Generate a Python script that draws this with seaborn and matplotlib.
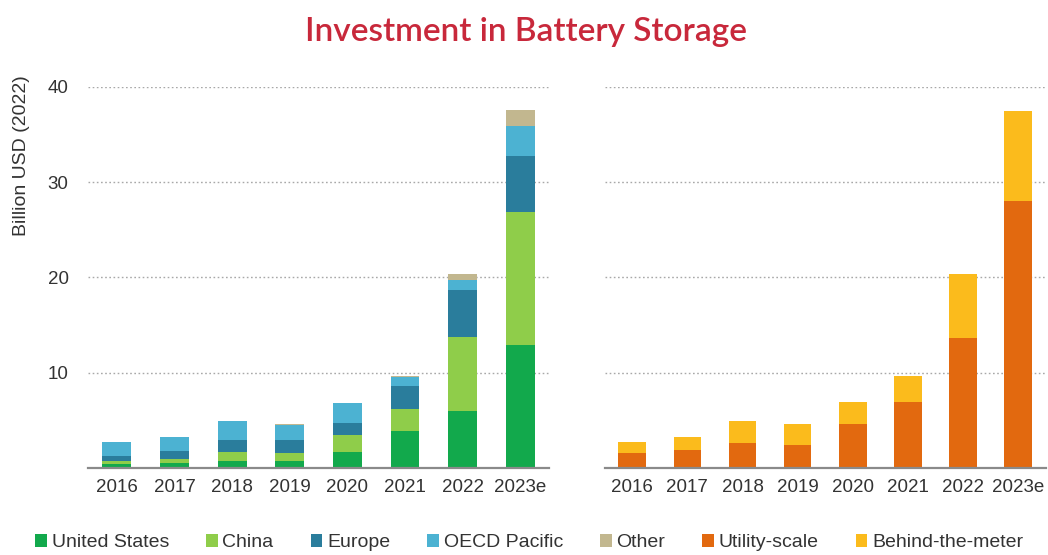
import matplotlib
matplotlib.use("Agg")
import matplotlib.pyplot as plt
from matplotlib.patches import Patch
import numpy as np
import pandas as pd
import seaborn as sns

# Investment in battery storage, billion USD (2022)
years = ["2016", "2017", "2018", "2019", "2020", "2021", "2022", "2023e"]

# By region
united_states = [0.4, 0.5, 0.7, 0.7, 1.7, 3.9, 6.0, 12.9]
china = [0.3, 0.45, 0.95, 0.9, 1.75, 2.3, 7.7, 14.0]
europe = [0.6, 0.8, 1.3, 1.3, 1.25, 2.4, 5.0, 5.9]
oecd_pacific = [1.4, 1.5, 1.95, 1.6, 2.1, 1.0, 1.0, 3.1]
other = [0.0, 0.0, 0.0, 0.1, 0.0, 0.1, 0.7, 1.7]

# By segment
utility_scale = [1.6, 1.9, 2.6, 2.45, 4.6, 6.9, 13.6, 28.0]
behind_the_meter = [1.1, 1.4, 2.35, 2.2, 2.3, 2.8, 6.8, 9.5]

region_series = {
    "United States": united_states,
    "China": china,
    "Europe": europe,
    "OECD Pacific": oecd_pacific,
    "Other": other,
}
segment_series = {
    "Utility-scale": utility_scale,
    "Behind-the-meter": behind_the_meter,
}

colors = {
    "United States": "#12a94c",
    "China": "#8fcd4a",
    "Europe": "#2a7d9c",
    "OECD Pacific": "#4cb2d2",
    "Other": "#c2b78f",
    "Utility-scale": "#e2690f",
    "Behind-the-meter": "#fbbb1c",
}

text_color = "#333333"

sns.set_theme(style="white")
plt.rcParams["font.family"] = ["Liberation Sans", "DejaVu Sans"]

fig = plt.figure(figsize=(10.48, 5.55), dpi=100)
ax_l = fig.add_axes([0.084, 0.1568, 0.44, 0.6865])
ax_r = fig.add_axes([0.577, 0.1568, 0.4208, 0.6865])


def stacked(ax, series):
    names = list(series)
    df = pd.DataFrame(series, index=years)
    cum = df.cumsum(axis=1)
    # draw tallest cumulative layer first so lower layers sit on top of it
    for name in reversed(names):
        sns.barplot(x=years, y=cum[name].values, color=colors[name],
                    width=0.5, saturation=1, linewidth=0, ax=ax, order=years)


stacked(ax_l, region_series)
stacked(ax_r, segment_series)

for ax in (ax_l, ax_r):
    ax.set_ylim(0, 40)
    ax.set_xlim(-0.5, 7.5)
    ax.set_yticks([0, 10, 20, 30, 40])
    ax.yaxis.grid(True, linestyle=(0, (1.2, 1.8)), color="#a8a8a8", linewidth=1.0)
    ax.set_axisbelow(True)
    for s in ("top", "right", "left"):
        ax.spines[s].set_visible(False)
    ax.spines["bottom"].set_color("#8a8a8a")
    ax.spines["bottom"].set_linewidth(1.6)
    ax.tick_params(axis="x", length=0, pad=8, labelsize=13.5, labelcolor=text_color)
    ax.tick_params(axis="y", length=0, pad=14, labelsize=13.5, labelcolor=text_color)
    ax.set_xlabel("")

ax_l.set_yticklabels(["", "10", "20", "30", "40"])
ax_r.set_yticklabels([])
ax_l.set_ylabel("Billion USD (2022)", fontsize=14, color=text_color)
ax_l.yaxis.set_label_coords(-0.125, 0.82)

fig.suptitle("Investment in Battery Storage", x=0.502, y=0.943, va="center",
             fontsize=24, fontweight="semibold", color="#c8283b",
             family=["Lato", "DejaVu Sans"])

handles = [Patch(facecolor=colors[n], edgecolor="none", label=n)
           for n in list(region_series) + list(segment_series)]
fig.legend(handles=handles, loc="center", bbox_to_anchor=(0.505, 0.022), ncol=7,
           frameon=False, fontsize=14, handlelength=0.6, handleheight=0.6,
           handletextpad=0.25, columnspacing=1.9, labelcolor=text_color)

fig.savefig("out.png", dpi=100)
